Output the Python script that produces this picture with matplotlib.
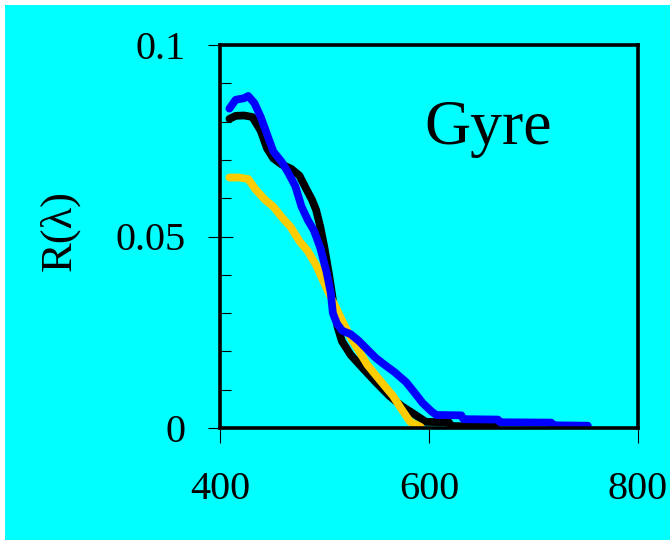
import matplotlib
matplotlib.use("Agg")
import matplotlib.pyplot as plt
from matplotlib.patches import Rectangle
from matplotlib.ticker import MultipleLocator

# Data (wavelength nm, reflectance)
black_x = [409, 415, 423, 431, 439, 445, 451, 459, 468, 476, 482, 488, 492, 496, 500,
           504.5, 508, 512.5, 516.6, 525, 537, 549, 562, 574, 587, 597, 619, 621, 664]
black_y = [0.0807, 0.0815, 0.0816, 0.0812, 0.0776, 0.0730, 0.0704, 0.0688, 0.0677, 0.0659,
           0.0627, 0.0596, 0.0569, 0.0525, 0.0470, 0.0398, 0.0335, 0.0264, 0.0227, 0.0191,
           0.0155, 0.0120, 0.0084, 0.0057, 0.0034, 0.0016, 0.0015, 0.0005, 0.0004]

blue_x = [409, 415, 423, 427, 433, 439, 445, 451, 459, 465, 472, 478, 484, 490, 496, 502,
          506, 508, 512, 517, 525, 533, 541, 549, 557.5, 567, 578, 586, 594, 602.5, 607,
          631, 633, 666, 668, 717, 719, 752]
blue_y = [0.0834, 0.0857, 0.0861, 0.0867, 0.0848, 0.0812, 0.0767, 0.0722, 0.0695, 0.0668,
          0.0632, 0.0578, 0.0543, 0.0515, 0.0470, 0.0407, 0.0353, 0.0300, 0.0272, 0.0254,
          0.0245, 0.0227, 0.0205, 0.0183, 0.0165, 0.0146, 0.0120, 0.0093, 0.0065, 0.0043,
          0.0034, 0.0033, 0.0023, 0.0022, 0.0015, 0.0014, 0.0007, 0.0006]

yellow_x = [409, 418, 427, 434, 443, 451, 459, 467.5, 476, 484, 492, 498, 504, 510.5, 516.6,
            525, 533, 541, 549, 557.5, 565.5, 574, 582, 592]
yellow_y = [0.0654, 0.0654, 0.0650, 0.0623, 0.0596, 0.0578, 0.0551, 0.0525, 0.0488, 0.0462,
            0.0425, 0.0389, 0.0353, 0.0317, 0.0282, 0.0236, 0.0201, 0.0165, 0.0138, 0.0110,
            0.0084, 0.0048, 0.0016, 0.0003]

x_ticks = [400, 600, 800]
y_ticks = [0, 0.05, 0.1]
y_tick_labels = ["0", "0.05", "0.1"]
x_tick_labels = ["400", "600", "800"]

CYAN = "#00FFFF"
serif = ["Liberation Serif", "DejaVu Serif"]

fig = plt.figure(figsize=(6.7, 5.4), dpi=100, facecolor="white")
fig.patches.append(Rectangle((5 / 670, 0), 1, 535 / 540, transform=fig.transFigure,
                             facecolor=CYAN, edgecolor="none", zorder=-10))
ax = fig.add_axes([220 / 670, 1 - 428 / 540, 418 / 670, 383 / 540])
ax.set_facecolor(CYAN)

kw = dict(lw=5.6, solid_capstyle="round", solid_joinstyle="round")
ax.plot(black_x, black_y, color="black", **kw)
ax.plot(yellow_x, yellow_y, color="#FFCC00", **kw)
ax.plot(blue_x, blue_y, color="#0000FF", **kw)

ax.set_xlim(400, 800)
ax.set_ylim(0, 0.1)

for s in ax.spines.values():
    s.set_linewidth(2.6)
    s.set_color("black")

ax.set_xticks(x_ticks)
ax.set_xticklabels(x_tick_labels, fontfamily=serif, fontsize=29)
ax.set_yticks(y_ticks)
ax.set_yticklabels(y_tick_labels, fontfamily=serif, fontsize=29)
ax.yaxis.set_minor_locator(MultipleLocator(0.01))

ax.tick_params(axis="x", which="major", direction="out", length=11, width=0.8, pad=20,
               top=False)
ax.tick_params(axis="y", which="major", direction="inout", length=18, width=0.8, pad=16,
               right=False)
ax.tick_params(axis="y", which="minor", direction="in", length=8, width=0.8, right=False)
ax.tick_params(axis="x", which="minor", bottom=False, top=False)

ax.set_ylabel("R(λ)", fontfamily=serif, fontsize=32)
ax.yaxis.set_label_coords(-0.335, 0.515)

ax.text(596, 0.0742, "Gyre", fontfamily=serif, fontsize=46, ha="left", va="baseline")

fig.savefig("out.png", dpi=100, facecolor=fig.get_facecolor())
